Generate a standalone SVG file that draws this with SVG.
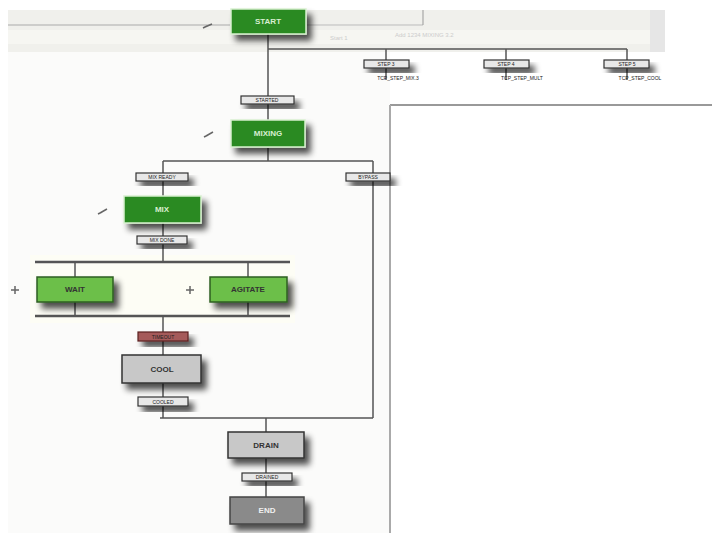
<svg xmlns="http://www.w3.org/2000/svg" width="712" height="533" viewBox="0 0 712 533">
<defs>
<filter id="sh" x="-30%" y="-40%" width="170%" height="200%">
<feGaussianBlur in="SourceAlpha" stdDeviation="3"/>
<feOffset dx="5" dy="6" result="b"/>
<feComponentTransfer><feFuncA type="linear" slope="0.7"/></feComponentTransfer>
<feMerge><feMergeNode/><feMergeNode in="SourceGraphic"/></feMerge>
</filter>
</defs>
<style>
.g1{fill:#2a8a22;stroke:#d8f0d0;stroke-width:1.5}
.g2{fill:#6cbf4a;stroke:#2f5f20;stroke-width:1.5}
.gr{fill:#c8c8c8;stroke:#333;stroke-width:1.5}
.dg{fill:#8a8a8a;stroke:#444;stroke-width:1.5}
.lb{fill:#e8e8e8;stroke:#333;stroke-width:1.2}
.rl{fill:#a55a5a;stroke:#5a2020;stroke-width:1.2}
.t{font-family:"Liberation Sans",Arial,sans-serif;font-size:8px;font-weight:bold;text-anchor:middle}
.tw{fill:#d8eed0}
.tk{fill:#333}
.ts{font-family:"Liberation Sans",Arial,sans-serif;font-size:5px;text-anchor:middle;fill:#222}
.ln{stroke:#555;stroke-width:1.5;fill:none}
.bar{stroke:#555;stroke-width:2.5;fill:none}
.ck{stroke:#666;stroke-width:1.5;fill:none}
</style>
<rect width="712" height="533" fill="#ffffff"/>
<g id="background">
<rect x="8" y="10" width="642" height="42" fill="#f0f0ec"/>
<rect x="8" y="30" width="642" height="14" fill="#f6f6f2"/>
<rect x="650" y="10" width="15" height="42" fill="#e6e6e6"/>
<line x1="8" y1="25" x2="230" y2="25" stroke="#aaa" stroke-width="1.2"/>
<line x1="307" y1="25" x2="423" y2="25" stroke="#bbb" stroke-width="1"/>
<line x1="423" y1="10" x2="423" y2="25" stroke="#999" stroke-width="1"/>
<rect x="8" y="52" width="382" height="481" fill="#fbfbfa"/>
<line x1="390" y1="105" x2="712" y2="105" stroke="#999" stroke-width="2"/>
<line x1="390" y1="105" x2="390" y2="533" stroke="#aaa" stroke-width="2"/>
<rect x="30" y="255" width="265" height="68" fill="#fdfdf5"/>
<text x="330" y="40" font-family="Liberation Sans,Arial,sans-serif" font-size="6" fill="#ccc">Start 1</text>
<text x="395" y="37" font-family="Liberation Sans,Arial,sans-serif" font-size="6" fill="#ccc">Add 1234 MIXING 3.2</text>
</g>
<g id="connectors">
<line class="ln" x1="268" y1="33" x2="268" y2="122"/>
<line class="ln" x1="268" y1="49" x2="627" y2="49"/>
<line class="ln" x1="386" y1="49" x2="386" y2="80"/>
<line class="ln" x1="506" y1="49" x2="506" y2="80"/>
<line class="ln" x1="627" y1="49" x2="627" y2="80"/>
<line class="ln" x1="268" y1="148" x2="268" y2="161"/>
<line class="ln" x1="163" y1="161" x2="373" y2="161"/>
<line class="ln" x1="163" y1="161" x2="163" y2="197"/>
<line class="ln" x1="373" y1="161" x2="373" y2="418"/>
<line class="ln" x1="163" y1="222" x2="163" y2="262"/>
<line class="bar" x1="35" y1="262" x2="290" y2="262"/>
<line class="ln" x1="75" y1="262" x2="75" y2="278"/>
<line class="ln" x1="248" y1="262" x2="248" y2="278"/>
<line class="ln" x1="75" y1="302" x2="75" y2="316"/>
<line class="ln" x1="248" y1="302" x2="248" y2="316"/>
<line class="bar" x1="35" y1="316" x2="290" y2="316"/>
<line class="ln" x1="163" y1="316" x2="163" y2="357"/>
<line class="ln" x1="163" y1="383" x2="163" y2="418"/>
<line class="ln" x1="160" y1="418" x2="373" y2="418"/>
<line class="ln" x1="266" y1="418" x2="266" y2="433"/>
<line class="ln" x1="266" y1="458" x2="266" y2="498"/>
</g>
<g id="n_start"><rect class="g1" x="231" y="9" width="75" height="25" filter="url(#sh)"/><text class="t tw" x="268" y="24">START</text></g>
<g id="ck1"><path class="ck" d="M203 28 L207 26 M205 27 L212 24"/></g>
<g id="l_t1"><rect class="lb" x="364" y="60" width="45" height="8" filter="url(#sh)"/><text class="ts" x="386" y="66">STEP 3</text><text class="ts" x="398" y="80" fill="#333">TCP_STEP_MIX.3</text></g>
<g id="l_t2"><rect class="lb" x="484" y="60" width="45" height="8" filter="url(#sh)"/><text class="ts" x="506" y="66">STEP 4</text><text class="ts" x="522" y="80">TCP_STEP_MULT</text></g>
<g id="l_t3"><rect class="lb" x="604" y="60" width="45" height="8" filter="url(#sh)"/><text class="ts" x="627" y="66">STEP 5</text><text class="ts" x="640" y="80">TCP_STEP_COOL</text></g>
<g id="l_start"><rect class="lb" x="241" y="96" width="53" height="8" filter="url(#sh)"/><text class="ts" x="267" y="102">STARTED</text></g>
<g id="n_mixing"><rect class="g1" x="231" y="120" width="74" height="27" filter="url(#sh)"/><text class="t tw" x="268" y="136">MIXING</text></g>
<g id="ck2"><path class="ck" d="M204 137 L208 135 M206 136 L213 132"/></g>
<g id="l_a"><rect class="lb" x="136" y="173" width="52" height="8" filter="url(#sh)"/><text class="ts" x="162" y="179">MIX READY</text></g>
<g id="l_b"><rect class="lb" x="346" y="173" width="44" height="8" filter="url(#sh)"/><text class="ts" x="368" y="179">BYPASS</text></g>
<g id="n_mix"><rect class="g1" x="124" y="196" width="77" height="27" filter="url(#sh)"/><text class="t tw" x="162" y="212">MIX</text></g>
<g id="ck3"><path class="ck" d="M98 214 L102 212 M100 213 L107 209"/></g>
<g id="l_c"><rect class="lb" x="137" y="236" width="50" height="8" filter="url(#sh)"/><text class="ts" x="162" y="242">MIX DONE</text></g>
<g id="n_wait"><rect class="g2" x="37" y="277" width="76" height="25" filter="url(#sh)"/><text class="t tk" x="75" y="292">WAIT</text></g>
<g id="p1"><path class="ck" d="M11 290 H19 M15 286 V294"/></g>
<g id="n_agitate"><rect class="g2" x="210" y="277" width="77" height="25" filter="url(#sh)"/><text class="t tk" x="248" y="292">AGITATE</text></g>
<g id="p2"><path class="ck" d="M186 290 H194 M190 286 V294"/></g>
<g id="l_red"><rect class="rl" x="138" y="332" width="50" height="9" filter="url(#sh)"/><text class="ts" x="163" y="339" fill="#fff">TIMEOUT</text></g>
<g id="n_cool"><rect class="gr" x="122" y="355" width="79" height="28" filter="url(#sh)"/><text class="t tk" x="162" y="372">COOL</text></g>
<g id="l_d"><rect class="lb" x="138" y="397" width="50" height="9" filter="url(#sh)"/><text class="ts" x="163" y="404">COOLED</text></g>
<g id="n_drain"><rect class="gr" x="228" y="432" width="76" height="26" filter="url(#sh)"/><text class="t tk" x="266" y="448">DRAIN</text></g>
<g id="l_e"><rect class="lb" x="242" y="473" width="50" height="8" filter="url(#sh)"/><text class="ts" x="267" y="479">DRAINED</text></g>
<g id="n_end"><rect class="dg" x="230" y="497" width="74" height="27" filter="url(#sh)"/><text class="t" x="267" y="513" fill="#f0f0f0">END</text></g>
</svg>
